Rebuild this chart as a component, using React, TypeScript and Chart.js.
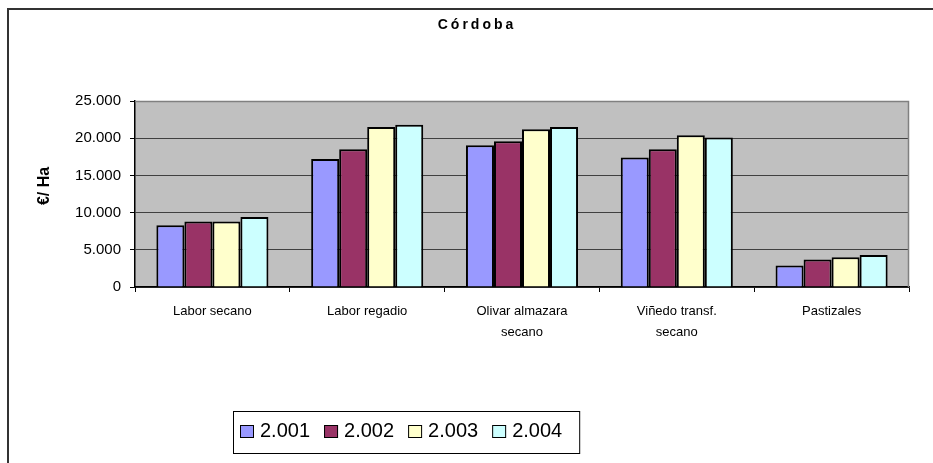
import React, { useEffect, useRef } from "react";
import { Chart, registerables } from "chart.js";

Chart.register(...registerables);

const categories: (string | string[])[] = [
  "Labor secano",
  "Labor regadio",
  ["Olivar almazara", "secano"],
  ["Viñedo transf.", "secano"],
  "Pastizales",
];
const series2001 = [8300, 17200, 19050, 17400, 2900];
const series2002 = [8800, 18500, 19600, 18500, 3700];
const series2003 = [8800, 21500, 21200, 20400, 4000];
const series2004 = [9400, 21800, 21500, 20100, 4300];
const seriesLabels = ["2.001", "2.002", "2.003", "2.004"];
const seriesColors = ["#9999FF", "#993366", "#FFFFCC", "#CCFFFF"];
const yMin = 0;
const yMax = 25000;
const yStep = 5000;
const chartTitle = "Córdoba";
const yTitle = "€/ Ha";

const SANS = "'Liberation Sans', Arial, sans-serif";
const NARROW = "'Liberation Sans Narrow', 'Liberation Sans', sans-serif";

function fmt(v: number): string {
  return String(Math.round(v)).replace(/\B(?=(\d{3})+(?!\d))/g, ".");
}

const decorPlugin = {
  id: "decor",
  beforeDraw(chart: any) {
    const { ctx, chartArea } = chart;
    ctx.save();
    ctx.strokeStyle = "#333333";
    ctx.lineWidth = 2;
    ctx.beginPath();
    ctx.moveTo(8, chart.height);
    ctx.lineTo(8, 9);
    ctx.lineTo(chart.width, 9);
    ctx.stroke();
    ctx.fillStyle = "#C0C0C0";
    ctx.fillRect(chartArea.left, chartArea.top, chartArea.right - chartArea.left, chartArea.bottom - chartArea.top);
    ctx.restore();
  },
  afterDraw(chart: any) {
    const { ctx, chartArea } = chart;
    ctx.save();
    ctx.strokeStyle = "#808080";
    ctx.lineWidth = 1.5;
    ctx.beginPath();
    ctx.moveTo(chartArea.left, chartArea.top + 0.5);
    ctx.lineTo(chartArea.right - 0.5, chartArea.top + 0.5);
    ctx.lineTo(chartArea.right - 0.5, chartArea.bottom);
    ctx.stroke();

    ctx.fillStyle = "#000";
    ctx.font = "bold 14px " + SANS;
    (ctx as any).letterSpacing = "3px";
    ctx.textAlign = "center";
    ctx.textBaseline = "middle";
    ctx.fillText(chartTitle, 477, 25);
    (ctx as any).letterSpacing = "0px";

    ctx.save();
    ctx.translate(45, 186);
    ctx.rotate(-Math.PI / 2);
    ctx.font = "bold 16px " + SANS;
    ctx.textAlign = "center";
    ctx.textBaseline = "middle";
    ctx.fillText(yTitle, 0, 0);
    ctx.restore();

    const boxX = 233;
    const boxY = 411;
    const boxH = 42;
    const cy = 431;
    ctx.font = "20px " + SANS;
    ctx.textAlign = "left";
    ctx.textBaseline = "middle";
    let x = boxX + 7;
    const ds = chart.data.datasets;
    ds.forEach((d: any, i: number) => {
      ctx.fillStyle = d.backgroundColor;
      ctx.fillRect(x, cy - 6, 14, 13);
      ctx.strokeStyle = "#000";
      ctx.lineWidth = 1;
      ctx.strokeRect(x + 0.5, cy - 5.5, 13, 12);
      ctx.fillStyle = "#000";
      ctx.fillText(d.label, x + 20, cy);
      const w = ctx.measureText(d.label).width;
      x += 20 + w;
      if (i < ds.length - 1) x += 14;
    });
    ctx.strokeStyle = "#000";
    ctx.lineWidth = 1;
    ctx.strokeRect(boxX + 0.5, boxY + 0.5, x + 17 - boxX, boxH);
    ctx.restore();
  },
};

export default function App() {
  const ref = useRef<HTMLCanvasElement>(null);
  useEffect(() => {
    if (!ref.current) return;
    const allSeries = [series2001, series2002, series2003, series2004];
    const chart = new Chart(ref.current, {
      type: "bar",
      data: {
        labels: categories,
        datasets: allSeries.map((s, i) => ({
          label: seriesLabels[i],
          data: s,
          backgroundColor: seriesColors[i],
          borderColor: "#000000",
          borderWidth: 2,
          categoryPercentage: 0.724,
          barPercentage: 1,
        })),
      },
      options: {
        animation: false,
        responsive: true,
        maintainAspectRatio: false,
        layout: { padding: { left: 0, top: 101, right: 24, bottom: 0 } },
        plugins: {
          legend: { display: false },
          title: { display: false },
          tooltip: { enabled: false },
        },
        scales: {
          x: {
            offset: true,
            grid: {
              offset: true,
              drawOnChartArea: false,
              drawTicks: true,
              tickLength: 5,
              tickColor: "#000",
              color: "#000",
            },
            border: { color: "#000", width: 1.5 },
            ticks: {
              color: "#000",
              font: { family: NARROW, size: 13, lineHeight: 1.6 },
              padding: 9,
              maxRotation: 0,
              autoSkip: false,
            },
            afterFit(scale: any) {
              scale.height = 176;
            },
          },
          y: {
            min: yMin,
            max: yMax,
            grid: {
              color: "#404040",
              lineWidth: 1,
              tickLength: 5,
              tickColor: "#000",
              drawTicks: true,
            },
            border: { color: "#000", width: 1.5 },
            ticks: {
              stepSize: yStep,
              color: "#000",
              font: { family: SANS, size: 15 },
              padding: 9,
              callback: (v: any) => fmt(Number(v)),
            },
            afterFit(scale: any) {
              scale.width = 135;
            },
          },
        },
      },
      plugins: [decorPlugin],
    });
    return () => chart.destroy();
  }, []);
  return (
    <div style={{ position: "fixed", left: 0, top: 0, width: 933, height: 463, background: "#fff" }}>
      <canvas ref={ref} />
    </div>
  );
}
